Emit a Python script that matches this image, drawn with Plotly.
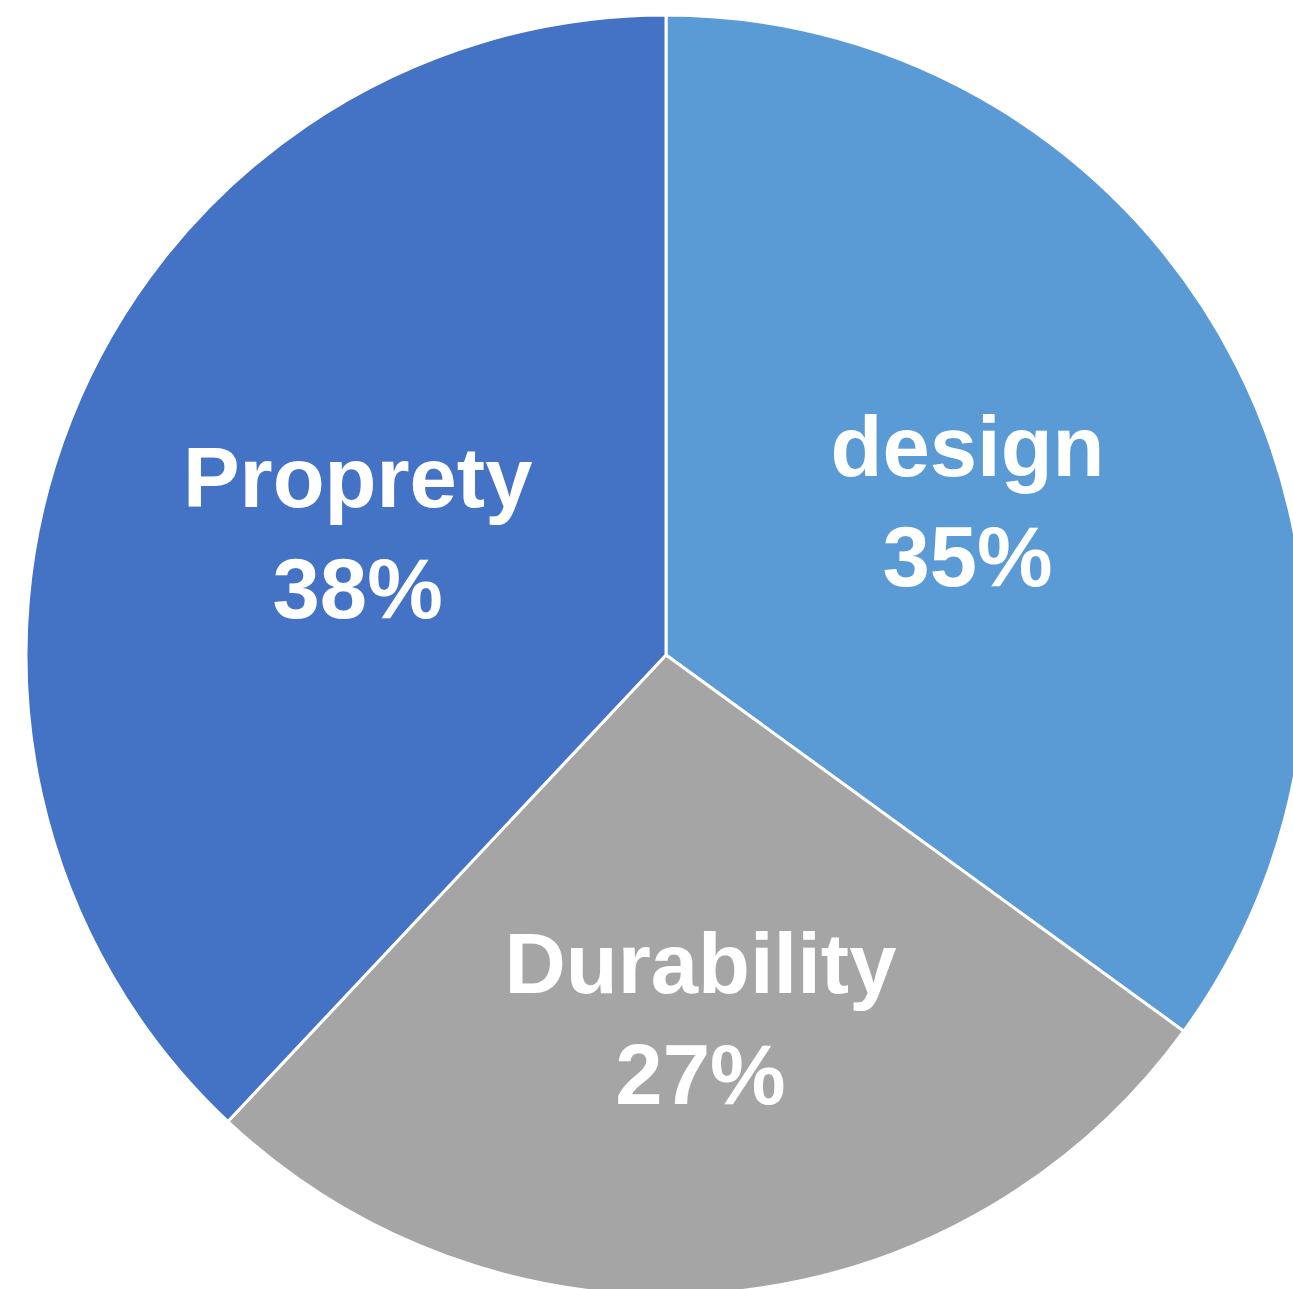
import plotly.graph_objects as go

labels = ["design", "Durability", "Proprety"]
values = [35, 27, 38]
colors = ["#5B9BD5", "#A5A5A5", "#4472C4"]

fig = go.Figure(go.Pie(
    labels=labels,
    values=values,
    sort=False,
    direction="clockwise",
    rotation=0,
    marker=dict(colors=colors, line=dict(color="white", width=3)),
    textinfo="label+percent",
    textposition="inside",
    insidetextorientation="horizontal",
    textfont=dict(family="Liberation Sans, Arial, sans-serif", size=85, color="white", weight="bold"),
    showlegend=False,
    hoverinfo="label+percent",
))

fig.update_layout(
    width=1320, height=1320,
    margin=dict(l=26, r=14, t=15, b=25),
    paper_bgcolor="white",
    plot_bgcolor="white",
    uniformtext=dict(minsize=85, mode="show"),
)

fig.write_html("out.html", post_script="document.documentElement.style.overflow='hidden';document.body.style.overflow='hidden';document.body.style.margin='0';")
